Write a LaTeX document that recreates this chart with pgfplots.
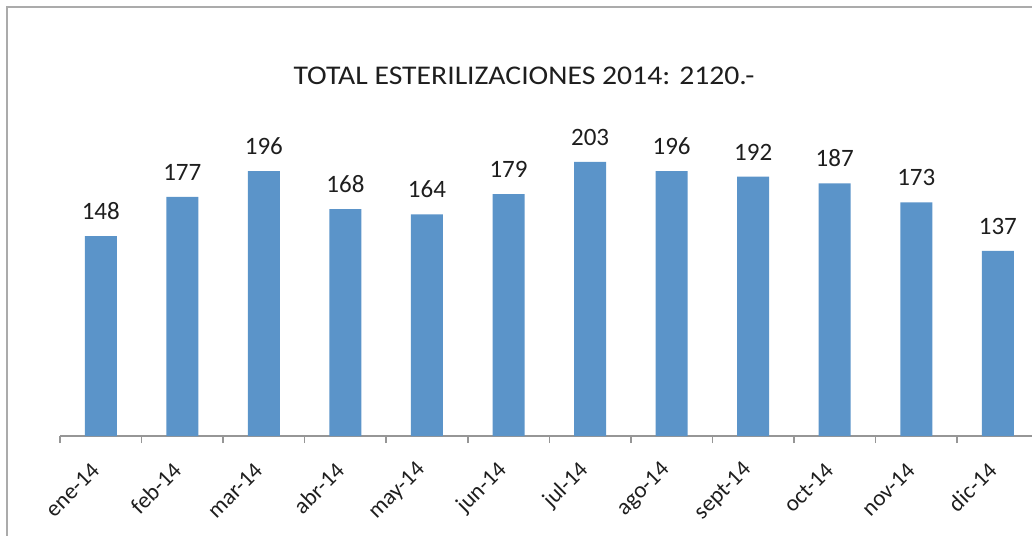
\documentclass[border=0pt]{standalone}
\usepackage{fontspec}
\setmainfont{Carlito}
\usepackage{pgfplots}
\pgfplotsset{compat=1.18}
\definecolor{barblue}{RGB}{91,148,201}
\definecolor{axgray}{RGB}{150,150,150}
\definecolor{txt}{RGB}{30,30,30}
\begin{document}
\begin{tikzpicture}[x=1pt,y=1pt]
\useasboundingbox (0,0) rectangle (1032,-535);
\clip (0,0) rectangle (1032,-535);
\draw[axgray!80, line width=1.6pt] (7,-700) -- (7,-7) -- (1200,-7);
\node[anchor=base, xscale=1.1, font=\fontsize{27}{31}\selectfont, text=txt] at (524,-84) {TOTAL ESTERILIZACIONES 2014: 2120.-};
\begin{axis}[
  at={(60pt,-436pt)}, anchor=south west,
  scale only axis, width=978.6pt, height=337.75pt,
  xmin=-0.5, xmax=11.5, ymin=0, ymax=250,
  axis x line*=bottom, axis y line=none,
  x axis line style={axgray, line width=1.5pt},
  ybar, bar width=32pt,
  xtick={0,...,11},
  xticklabels={ene-14,feb-14,mar-14,abr-14,may-14,jun-14,jul-14,ago-14,sept-14,oct-14,nov-14,dic-14},
  major tick length=0pt,
  minor xtick={-0.5,0.5,...,11.5},
  minor tick length=7pt,
  tick align=outside,
  minor tick style={axgray, line width=1.5pt},
  /pgf/number format/assume math mode=true,
  xticklabel style={font=\fontsize{23}{27}\selectfont, text=txt, rotate=45, anchor=east, xshift=-22pt, yshift=-18pt},
  nodes near coords,
  every node near coord/.append style={font=\fontsize{25}{29}\selectfont, text=txt, yshift=13pt},
  clip=false,
]
\addplot[fill=barblue, draw=none] coordinates {
(0,148) (1,177) (2,196) (3,168) (4,164) (5,179) (6,203) (7,196) (8,192) (9,187) (10,173) (11,137)};
\end{axis}
\end{tikzpicture}
\end{document}
